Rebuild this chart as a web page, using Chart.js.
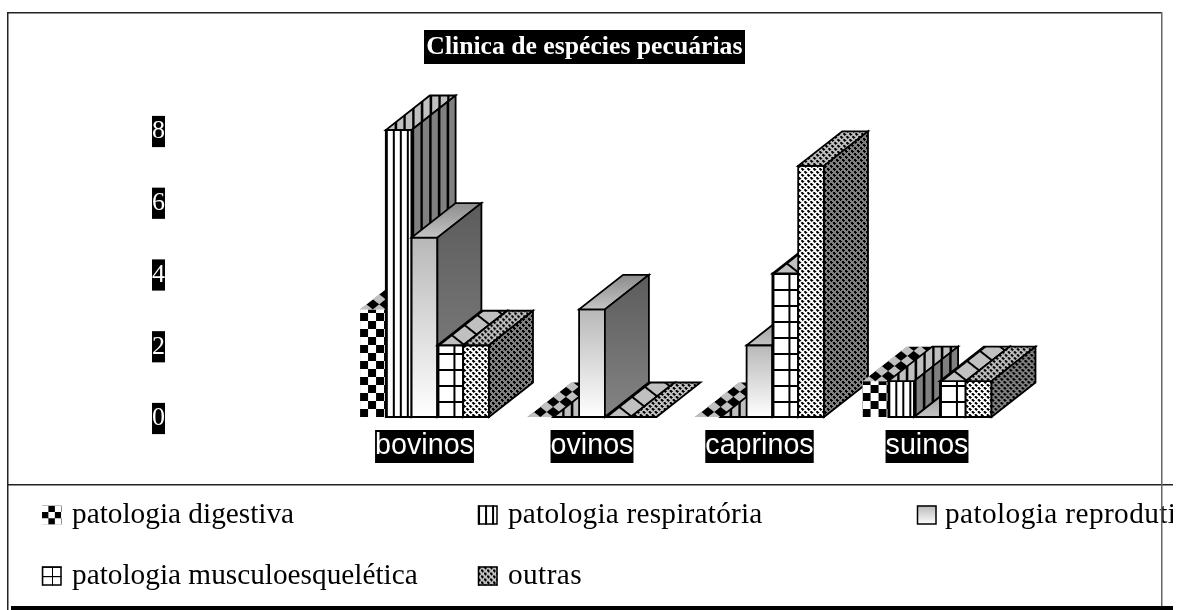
<!DOCTYPE html>
<html>
<head>
<meta charset="utf-8">
<style>
  html, body { margin: 0; padding: 0; background: #fff; }
  canvas { display: block; }
</style>
<script src="https://cdn.jsdelivr.net/npm/chart.js@4/dist/chart.umd.min.js"></script>
</head>
<body>
<canvas id="clinicaChart" width="1179" height="610"></canvas>
<script>
const categories = ['bovinos', 'ovinos', 'caprinos', 'suinos'];
const yTicks = [0, 2, 4, 6, 8];
const digestiva = [3, 0, 0, 1];
const respiratoria = [8, 0, 0, 1];
const reprodutiva = [5, 3, 2, 0];
const musculo = [2, 0, 4, 1];
const outras = [2, 0, 7, 1];

// profundidade do efeito 3D
const depthX = 44;
const depthY = -34.5;

function tile(w, h, bg, paint) {
    const c = document.createElement('canvas');
    c.width = w;
    c.height = h;
    const t = c.getContext('2d');
    t.fillStyle = bg;
    t.fillRect(0, 0, w, h);
    t.fillStyle = '#000';
    paint(t);
    return c.getContext('2d').createPattern(c, 'repeat');
}

const paintCheck = t => { t.fillRect(0, 8, 8, 8); t.fillRect(8, 0, 8, 8); };
const paintStripes = t => { t.fillRect(0, 0, 2, 7); };
const paintGrid = t => { t.fillRect(0, 0, 2, 16); t.fillRect(0, 0, 16, 2); };
const paintDots = t => {
    t.fillRect(0, 1, 3, 1); t.fillRect(1, 0, 1, 3);
    t.fillRect(3, 4, 3, 1); t.fillRect(4, 3, 1, 3);
    t.fillRect(0, 0, 1, 1); t.fillRect(3, 3, 1, 1);
};

function faces(w, h, paint, topMode, sideMode, outline) {
    return {
        front: tile(w, h, '#fff', paint),
        top: tile(w, h, '#c0c0c0', paint),
        side: tile(w, h, '#808080', paint),
        topMode: topMode,
        sideMode: sideMode,
        outline: outline
    };
}

const styles = [
    faces(16, 16, paintCheck, 'diamond', 'shear', false),
    faces(7, 7, paintStripes, 'wide', 'wide', true),
    null,
    faces(16, 16, paintGrid, 'diamond', 'shear', true),
    faces(6, 6, paintDots, 'flat', 'flat', true)
];

function vGradient(ctx, y0, y1, c0, c1) {
    const g = ctx.createLinearGradient(0, y0, 0, y1);
    g.addColorStop(0, c0);
    g.addColorStop(1, c1);
    return g;
}

function drawFace(ctx, pts, fill, matrix, outline) {
    ctx.beginPath();
    pts.forEach((p, i) => i ? ctx.lineTo(p[0], p[1]) : ctx.moveTo(p[0], p[1]));
    ctx.closePath();
    ctx.save();
    ctx.transform(...matrix);
    ctx.fillStyle = fill;
    ctx.fill();
    ctx.restore();
    if (outline) {
        ctx.stroke();
    }
}

// como o padrao assenta em cada face
function faceMatrix(mode, x, y) {
    if (mode == 'diamond') {
        return [0.8, -0.63, 0.8, 0.63, x, y];
    }
    if (mode == 'wide') {
        return [1.25, 0, 0, 1, x, y];
    }
    if (mode == 'shear') {
        return [1.25, depthY / depthX, 0, 1, x, y];
    }
    return [1, 0, 0, 1, x, y];
}

function drawBar3d(ctx, bar, style) {
    const x0 = bar.x - bar.width / 2;
    const x1 = bar.x + bar.width / 2;
    const yt = bar.y;
    const yb = bar.base;
    const front = [[x0, yb], [x1, yb], [x1, yt], [x0, yt]];
    const top = [[x0, yt], [x1, yt], [x1 + depthX, yt + depthY], [x0 + depthX, yt + depthY]];
    const side = [[x1, yb], [x1 + depthX, yb + depthY], [x1 + depthX, yt + depthY], [x1, yt]];
    const hasHeight = yb - yt > 0.5;
    if (!style) {
        const none = [1, 0, 0, 1, 0, 0];
        if (hasHeight) {
            drawFace(ctx, front, vGradient(ctx, yt, yb, '#b8b8b8', '#ffffff'), none, true);
        }
        drawFace(ctx, top, vGradient(ctx, yt + depthY, yt, '#8c8c8c', '#c4c4c4'), none, true);
        if (hasHeight) {
            drawFace(ctx, side, vGradient(ctx, yt + depthY, yb, '#5c5c5c', '#848484'), none, true);
        }
        return;
    }
    if (hasHeight) {
        drawFace(ctx, front, style.front, [1, 0, 0, 1, x0, yb], style.outline);
    }
    drawFace(ctx, top, style.top, faceMatrix(style.topMode, x0, yt), style.outline);
    if (hasHeight) {
        drawFace(ctx, side, style.side, faceMatrix(style.sideMode, x1, yb), style.outline);
    }
}

const bars3d = {
    id: 'bars3d',
    beforeDraw(chart) {
        const ctx = chart.ctx;
        ctx.fillStyle = '#000';
        ctx.fillRect(424, 30, 321, 34);
    },
    afterLayout(chart) {
        chart.titleBlock.left += 3;
        chart.titleBlock.right += 3;
    },
    beforeDatasetsDraw(chart) {
        const ctx = chart.ctx;
        ctx.save();
        ctx.strokeStyle = '#000';
        ctx.lineWidth = 1.8;
        ctx.lineJoin = 'miter';
        categories.forEach((cat, j) => {
            chart.data.datasets.forEach((ds, i) => {
                const bar = chart.getDatasetMeta(i).data[j];
                bar.draw(ctx);
                drawBar3d(ctx, bar, styles[i]);
            });
        });
        ctx.restore();
        return false;
    },
    afterDraw(chart) {
        const ctx = chart.ctx;
        ctx.save();
        // legenda
        const cols = [[42, 515, 72, 0], [478, 515, 508, 0.22], [917, 515, 945, 0.4], [42, 576, 72, 0], [478, 576, 508, 0.4]];
        chart.data.datasets.forEach((ds, i) => {
            const [lx, ly, tx, spacing] = cols[i];
            ctx.strokeStyle = '#000';
            ctx.lineWidth = 1.5;
            ctx.save();
            ctx.translate(lx, ly - 9.5);
            ctx.beginPath();
            ctx.rect(0, 0, 19.5, 19);
            if (i == 2) {
                ctx.fillStyle = vGradient(ctx, 0, 19, '#b8b8b8', '#ffffff');
            } else if (i == 0) {
                ctx.scale(0.8, 0.8);
                ctx.fillStyle = styles[0].front;
            } else if (i == 3) {
                ctx.scale(0.62, 0.6);
                ctx.fillStyle = styles[3].front;
            } else if (i == 1) {
                ctx.fillStyle = styles[1].front;
            } else {
                ctx.fillStyle = styles[4].top;
            }
            ctx.fill();
            ctx.restore();
            if (i != 0) {
                ctx.strokeRect(lx + 0.5, ly - 9, 18.5, 18);
            }
            ctx.fillStyle = '#000';
            ctx.font = '29.3px "Liberation Serif"';
            ctx.letterSpacing = spacing + 'px';
            ctx.textBaseline = 'middle';
            ctx.fillText(ds.label, tx, ly);
        });
        // moldura
        ctx.fillStyle = '#fff';
        ctx.fillRect(1173, 0, 6, 610);
        ctx.fillStyle = '#222';
        ctx.fillRect(7, 12, 1154, 1.5);
        ctx.fillRect(7, 12, 1.5, 598);
        ctx.fillRect(7, 484, 1166, 1.5);
        ctx.fillStyle = '#666';
        ctx.fillRect(1161, 12, 1.5, 594);
        ctx.fillStyle = '#000';
        ctx.fillRect(11, 606, 1162, 4);
        ctx.restore();
    }
};

const clinicaCtx = document.getElementById('clinicaChart').getContext('2d');
const clinicaChart = new Chart(clinicaCtx, {
    type: 'bar',
    data: {
        labels: categories,
        datasets: [
            { label: 'patologia digestiva', data: digestiva, backgroundColor: '#fff' },
            { label: 'patologia respiratória', data: respiratoria, backgroundColor: '#fff' },
            { label: 'patologia reprodutiva', data: reprodutiva, backgroundColor: '#fff' },
            { label: 'patologia musculoesquelética', data: musculo, backgroundColor: '#fff' },
            { label: 'outras', data: outras, backgroundColor: '#fff' }
        ]
    },
    options: {
        responsive: false,
        animation: false,
        categoryPercentage: 0.77,
        barPercentage: 1,
        layout: {
            padding: { left: 152, right: 168.25, top: 30, bottom: 146.7 }
        },
        plugins: {
            legend: { display: false },
            tooltip: { enabled: false },
            title: {
                display: true,
                text: 'Clinica de espécies pecuárias',
                color: '#fff',
                font: { family: '"Liberation Serif"', size: 25.7, weight: 'bold', lineHeight: 1.323 },
                padding: { top: 0, bottom: 66 }
            }
        },
        scales: {
            x: {
                afterFit(scale) { scale.height = 46.3; },
                grid: { display: false, drawTicks: false },
                border: { display: false },
                ticks: {
                    color: '#fff',
                    font: { family: '"Liberation Sans"', size: 28.7, lineHeight: 1.15 },
                    padding: 13,
                    maxRotation: 0,
                    autoSkip: false,
                    showLabelBackdrop: true,
                    backdropColor: '#000',
                    backdropPadding: 0
                }
            },
            y: {
                min: 0,
                max: 8,
                afterFit(scale) {
                    scale.width = 188.75;
                    scale.paddingTop = 0;
                    scale.paddingBottom = 0;
                },
                afterBuildTicks(scale) {
                    scale.ticks = yTicks.map(v => ({ value: v }));
                },
                grid: { display: false, drawTicks: false },
                border: { display: false },
                ticks: {
                    color: '#fff',
                    font: { family: '"Liberation Serif"', size: 26, lineHeight: 1.2 },
                    padding: 175.75,
                    labelOffset: 1.5,
                    autoSkip: false,
                    showLabelBackdrop: true,
                    backdropColor: '#000',
                    backdropPadding: 0
                }
            }
        }
    },
    plugins: [bars3d]
});
</script>
</body>
</html>
